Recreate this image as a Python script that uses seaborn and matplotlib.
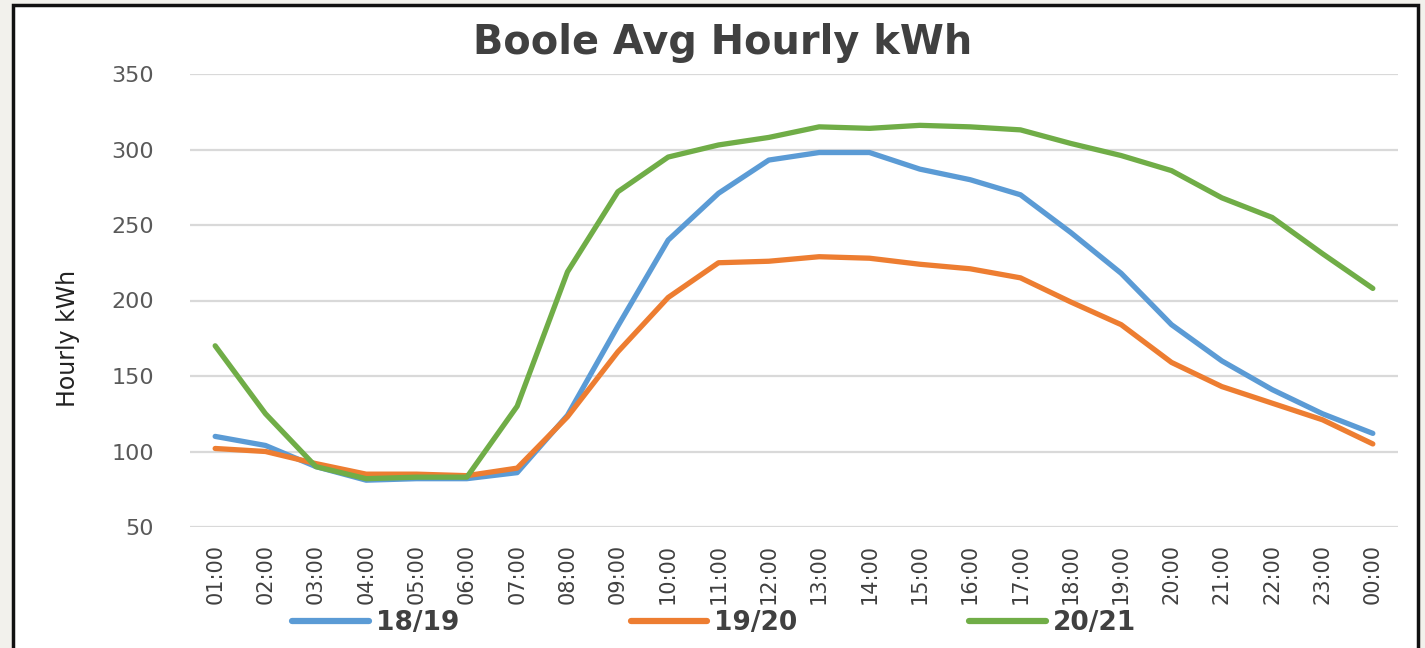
import matplotlib
matplotlib.use("Agg")
import matplotlib.pyplot as plt
import seaborn as sns
import pandas as pd
from matplotlib.patches import Rectangle
from matplotlib.lines import Line2D

hours = ["01:00", "02:00", "03:00", "04:00", "05:00", "06:00", "07:00", "08:00",
         "09:00", "10:00", "11:00", "12:00", "13:00", "14:00", "15:00", "16:00",
         "17:00", "18:00", "19:00", "20:00", "21:00", "22:00", "23:00", "00:00"]
s1819 = [110, 104, 90, 81, 82, 82, 86, 124, 183, 240, 271, 293, 298, 298, 287, 280,
         270, 245, 218, 184, 160, 141, 125, 112]
s1920 = [102, 100, 92, 85, 85, 84, 89, 123, 166, 202, 225, 226, 229, 228, 224, 221,
         215, 199, 184, 159, 143, 132, 121, 105]
s2021 = [170, 125, 90, 82, 83, 83, 130, 219, 272, 295, 303, 308, 315, 314, 316, 315,
         313, 304, 296, 286, 268, 255, 231, 208]
series_names = ["18/19", "19/20", "20/21"]
colors = ["#5B9BD5", "#ED7D31", "#70AD47"]
yticks = [50, 100, 150, 200, 250, 300, 350]

rows = []
for name, vals in zip(series_names, [s1819, s1920, s2021]):
    for i, (h, v) in enumerate(zip(hours, vals)):
        rows.append({"idx": i, "hour": h, "kWh": v, "series": name})
df = pd.DataFrame(rows)

sns.set_theme(style="white")
plt.rcParams["font.family"] = ["DejaVu Sans"]

W, H = 1425, 648
fig = plt.figure(figsize=(W / 100, H / 100), dpi=100)
fig.patch.set_facecolor("#f2f1ec")
fig.patches.append(Rectangle((13 / W, -0.02), (1418 - 13) / W, 1 - 5 / H + 0.02,
                             transform=fig.transFigure, facecolor="white",
                             edgecolor="#111111", linewidth=2.5, zorder=-10))

ax = fig.add_axes([190 / W, 1 - 527 / H, (1398 - 190) / W, (527 - 74) / H])
ax.patch.set_alpha(0)
sns.lineplot(data=df, x="idx", y="kWh", hue="series", palette=colors,
             linewidth=3.8, sort=False, ax=ax, legend=False, zorder=3)

ax.set_xlim(-0.5, 23.5)
ax.set_ylim(50, 350)
ax.set_yticks(yticks)
ax.set_yticklabels([str(t) for t in yticks], color="#595959", fontsize=16)
ax.set_xticks(range(len(hours)))
ax.set_xticklabels(hours, rotation=90, color="#404040", fontsize=15)
ax.tick_params(axis="y", length=0, pad=26)
ax.tick_params(axis="x", length=0, pad=12)
ax.yaxis.grid(True, color="#d9d9d9", linewidth=1.6)
ax.xaxis.grid(False)
for sp in ax.spines.values():
    sp.set_visible(False)
ax.set_xlabel("")
ax.set_ylabel("")

fig.text(723 / W, 1 - 43 / H, "Boole Avg Hourly kWh", ha="center", va="center",
         fontsize=28.7, fontweight="bold", color="#404040")
fig.text(68 / W, 1 - 338 / H, "Hourly kWh", rotation=90, ha="center", va="center",
         fontsize=17, color="#222222")

handles = [Line2D([0], [0], color=c, linewidth=4.5, solid_capstyle="round") for c in colors]
leg = fig.legend(handles, series_names, loc="center", bbox_to_anchor=(714 / W, 1 - 623 / H),
                 ncol=3, frameon=False, handlelength=2.9, handletextpad=0.27,
                 columnspacing=6.5, prop={"size": 19, "weight": "bold"})
for t in leg.get_texts():
    t.set_color("#404040")

fig.savefig("out.png", dpi=100, facecolor=fig.get_facecolor())
